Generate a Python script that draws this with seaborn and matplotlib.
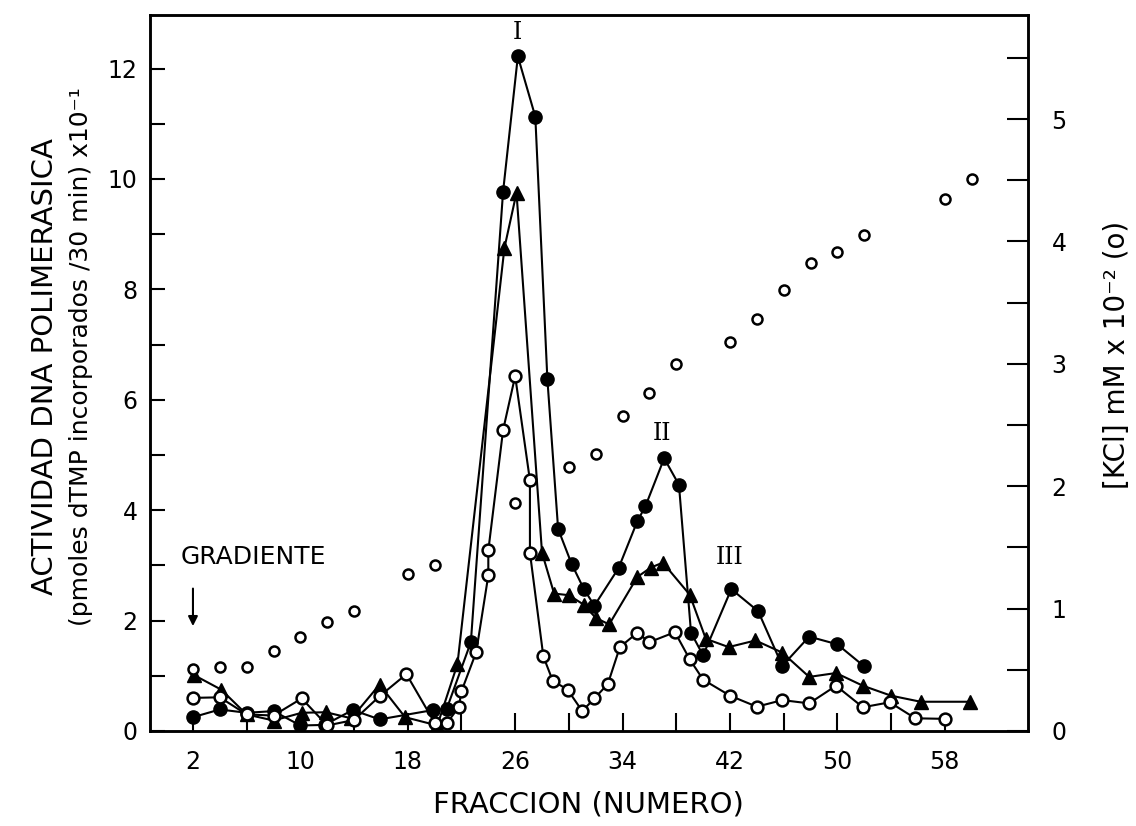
import matplotlib
matplotlib.use("Agg")
import matplotlib.pyplot as plt
import numpy as np
import seaborn as sns

# DNA polymerase activity, filled circles
frac_filled = [2.0, 4.0, 6.0, 8.0, 10.0, 11.8, 13.9, 15.9, 19.9, 20.9, 22.7, 25.1,
               26.2, 27.5, 28.4, 29.2, 30.2, 31.1, 31.9, 33.7, 35.1, 35.7, 37.1, 38.2,
               39.1, 40.0, 42.1, 44.1, 45.9, 47.9, 50.0, 52.0]
act_filled = [0.25, 0.39, 0.33, 0.36, 0.10, 0.11, 0.38, 0.21, 0.38, 0.40, 1.61, 9.77,
              12.22, 11.13, 6.37, 3.66, 3.03, 2.58, 2.27, 2.95, 3.80, 4.07, 4.94, 4.46,
              1.78, 1.37, 2.57, 2.17, 1.18, 1.71, 1.57, 1.17]

# DNA polymerase activity, filled triangles
frac_tri = [2.1, 4.1, 6.0, 8.0, 10.1, 11.9, 13.8, 15.9, 17.8, 20.2, 21.7, 25.2,
            26.1, 28.0, 28.9, 30.0, 31.1, 32.0, 33.0, 35.1, 36.1, 37.0, 39.0, 40.2,
            41.9, 43.9, 45.9, 47.9, 49.9, 51.9, 54.0, 56.2, 59.9]
act_tri = [1.01, 0.75, 0.30, 0.19, 0.33, 0.34, 0.23, 0.84, 0.25, 0.10, 1.21, 8.75,
           9.75, 3.23, 2.49, 2.46, 2.29, 2.05, 1.93, 2.79, 2.96, 3.05, 2.47, 1.67,
           1.52, 1.64, 1.42, 0.98, 1.05, 0.82, 0.64, 0.53, 0.53]

# DNA polymerase activity, open circles
frac_open = [2.0, 4.0, 6.0, 8.0, 10.1, 12.0, 14.0, 15.9, 17.9, 20.0, 20.9, 21.8,
             22.0, 23.1, 24.0, 24.0, 25.1, 26.0, 27.1, 27.1, 28.1, 28.8, 29.9, 31.0,
             31.9, 32.9, 33.8, 35.1, 36.0, 37.9, 39.0, 40.0, 42.0, 44.0, 45.9, 47.9,
             49.9, 51.9, 53.9, 55.8, 58.0]
act_open = [0.60, 0.61, 0.30, 0.28, 0.59, 0.10, 0.20, 0.63, 1.03, 0.15, 0.14, 0.43,
            0.72, 1.43, 2.82, 3.27, 5.45, 6.43, 4.54, 3.23, 1.35, 0.91, 0.75, 0.36,
            0.59, 0.85, 1.52, 1.78, 1.61, 1.79, 1.30, 0.93, 0.64, 0.44, 0.56, 0.50,
            0.82, 0.43, 0.52, 0.23, 0.22]

# KCl gradient (right axis), unconnected open circles
frac_kcl = [2, 4, 6, 8, 10, 12, 14, 18, 20, 26, 30, 32, 34, 36, 38, 42, 44, 46, 48,
            50, 52, 58, 60]
kcl = [0.51, 0.52, 0.52, 0.65, 0.77, 0.89, 0.98, 1.28, 1.36, 1.86, 2.16, 2.26, 2.57,
       2.76, 3.00, 3.18, 3.37, 3.60, 3.82, 3.91, 4.05, 4.35, 4.51]

x_ticks = list(range(2, 59, 4))
x_labeled = [2, 10, 18, 26, 34, 42, 50, 58]
left_ticks = list(range(0, 13))
left_labeled = [0, 2, 4, 6, 8, 10, 12]
right_ticks = [i * 0.5 for i in range(12)]
right_labeled = [0, 1, 2, 3, 4, 5]

sns.set_theme(style="ticks")
plt.rcParams["font.family"] = ["DejaVu Sans"]
plt.rcParams["text.color"] = "black"
plt.rcParams["axes.labelcolor"] = "black"

W, H = 1136, 826
fig = plt.figure(figsize=(W / 100, H / 100), dpi=100)
fig.patch.set_facecolor("white")
ax = fig.add_axes([150 / W, (H - 731) / H, 878 / W, 716 / H])
ax2 = ax.twinx()

common = dict(ax=ax, color="black", linewidth=1.5, estimator=None, sort=False,
              legend=False)
sns.lineplot(x=frac_tri, y=act_tri, marker="^", markersize=9.5,
             markerfacecolor="black", markeredgecolor="black",
             markeredgewidth=1.0, zorder=2, **common)
sns.lineplot(x=frac_filled, y=act_filled, marker="o", markersize=9.5,
             markerfacecolor="black", markeredgecolor="black",
             markeredgewidth=1.0, zorder=3, **common)
sns.lineplot(x=frac_open, y=act_open, marker="o", markersize=8.5,
             markerfacecolor="white", markeredgecolor="black",
             markeredgewidth=1.8, zorder=4, **common)
sns.scatterplot(x=frac_kcl, y=kcl, ax=ax2, marker="o", s=52, facecolor="white",
                edgecolor="black", linewidth=1.8, zorder=5, legend=False)

ax.set_xlim(-1.2, 64.2)
ax.set_ylim(0, 12.97)
ax2.set_ylim(0, 5.85)

ax.set_xticks(x_ticks)
ax.set_xticklabels([str(t) if t in x_labeled else "" for t in x_ticks])
ax.set_yticks(left_ticks)
ax.set_yticklabels([str(t) if t in left_labeled else "" for t in left_ticks])
ax2.set_yticks(right_ticks)
ax2.set_yticklabels([str(int(t)) if t in right_labeled else "" for t in right_ticks])

ax.tick_params(axis="x", direction="in", length=13, width=1.5, pad=14,
               labelsize=17, colors="black")
ax.tick_params(axis="y", direction="in", length=11, width=1.5, pad=9,
               labelsize=17, colors="black")
ax2.tick_params(axis="y", direction="in", length=15, width=1.5, pad=17,
                labelsize=17, colors="black")
ax.set_xlabel("")
ax.set_ylabel("")
ax2.set_ylabel("")

for a in (ax, ax2):
    for sp in a.spines.values():
        sp.set_visible(True)
        sp.set_color("black")
        sp.set_linewidth(1.8)

# Peak labels
serif = ["DejaVu Serif"]
ax.text(26.2, 12.65, "I", family=serif, fontsize=17, ha="center", va="center")
ax.text(36.95, 5.39, "II", family=serif, fontsize=17, ha="center", va="center")
ax.text(42.0, 3.15, "III", family=serif, fontsize=17, ha="center", va="center")

# Start of the salt gradient
ax.text(6.5, 3.15, "GRADIENTE", fontsize=18, ha="center", va="center")
ax.annotate("", xy=(2.0, 1.90), xytext=(2.0, 2.58),
            arrowprops=dict(arrowstyle="-|>", color="black", lw=1.5,
                            mutation_scale=14, shrinkA=0, shrinkB=0))

# Axis titles
fig.text(45 / W, 1 - 367 / H, "ACTIVIDAD DNA POLIMERASICA", rotation=90,
         ha="center", va="center", fontsize=21)
fig.text(81 / W, 1 - 357 / H, "(pmoles dTMP incorporados /30 min) x10⁻¹",
         rotation=90, ha="center", va="center", fontsize=18)
fig.text(1117 / W, 1 - 355 / H, "[KCl] mM x 10⁻² (o)", rotation=90,
         ha="center", va="center", fontsize=20)
fig.text(588 / W, 1 - 805 / H, "FRACCION (NUMERO)", ha="center", va="center",
         fontsize=21)

fig.savefig("out.png", dpi=100, facecolor="white")
